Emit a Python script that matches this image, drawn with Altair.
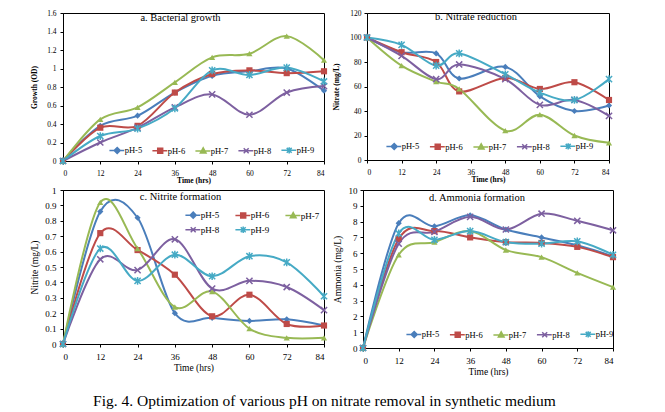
import altair as alt
import pandas as pd

FONT = "Liberation Serif"

series = ["pH-5", "pH-6", "pH-7", "pH-8", "pH-9"]
colors = ["#4A7EBB", "#BE4B48", "#98B954", "#7D60A0", "#46AAC5"]
marker_shapes = ["diamond", "square", "triangle-up",
                 "M-1,-1L1,1M1,-1L-1,1",
                 "M-1,-1L1,1M1,-1L-1,1M0,-1.25L0,1.25"]
marker_filled = [True, True, True, False, False]
legend_shapes = [
    "M-2.2,0L2,0M0,-0.85L0.85,0L0,0.85L-0.85,0ZM0,-0.45L0.45,0L0,0.45L-0.45,0Z",
    "M-2.2,0L2,0M-0.7,-0.7L0.7,-0.7L0.7,0.7L-0.7,0.7ZM-0.3,-0.3L0.3,-0.3L0.3,0.3L-0.3,0.3Z",
    "M-2.2,0L2,0M0,-0.85L0.8,0.6L-0.8,0.6ZM0,-0.25L0.3,0.3L-0.3,0.3Z",
    "M-2.2,0L2,0M-0.7,-0.7L0.7,0.7M0.7,-0.7L-0.7,0.7",
    "M-2.2,0L2,0M-0.7,-0.7L0.7,0.7M0.7,-0.7L-0.7,0.7M0,-0.9L0,0.9",
]

hours = [0, 12, 24, 36, 48, 60, 72, 84]
hours_b = [0, 12, 24, 32, 48, 60, 72, 84]

growth = {
    "pH-5": [0, 0.38, 0.49, 0.74, 0.92, 0.97, 1.00, 0.76],
    "pH-6": [0, 0.36, 0.38, 0.74, 0.94, 0.98, 0.95, 0.97],
    "pH-7": [0, 0.45, 0.58, 0.85, 1.12, 1.16, 1.35, 1.09],
    "pH-8": [0, 0.20, 0.36, 0.58, 0.72, 0.50, 0.74, 0.81],
    "pH-9": [0, 0.27, 0.35, 0.57, 0.98, 0.93, 1.01, 0.86],
}
nitrate = {
    "pH-5": [100, 88, 87, 66.5, 76, 52, 40, 44.5],
    "pH-6": [100, 88, 80, 56, 67, 58, 63.5, 49],
    "pH-7": [100, 77, 64, 58, 24, 37, 20, 14],
    "pH-8": [100, 85, 66, 78, 66, 45, 49, 36],
    "pH-9": [100, 94, 77, 87, 70, 55, 49, 66],
}
nitrite = {
    "pH-5": [0, 0.86, 0.82, 0.20, 0.17, 0.15, 0.16, 0.12],
    "pH-6": [0, 0.72, 0.61, 0.45, 0.18, 0.32, 0.13, 0.12],
    "pH-7": [0, 0.92, 0.62, 0.24, 0.34, 0.10, 0.04, 0.04],
    "pH-8": [0, 0.55, 0.48, 0.68, 0.36, 0.41, 0.37, 0.22],
    "pH-9": [0, 0.62, 0.41, 0.58, 0.44, 0.57, 0.53, 0.31],
}
ammonia = {
    "pH-5": [0, 7.9, 7.7, 8.4, 7.5, 7.0, 6.5, 5.8],
    "pH-6": [0, 6.9, 7.4, 7.0, 6.7, 6.65, 6.4, 5.75],
    "pH-7": [0, 5.9, 6.7, 7.4, 6.2, 5.75, 4.75, 3.85],
    "pH-8": [0, 6.6, 7.35, 8.3, 7.5, 8.5, 8.05, 7.45],
    "pH-9": [0, 7.25, 6.85, 7.4, 6.7, 6.6, 6.75, 5.9],
}


def panel(vals, xs, ymax, ystep, yfmt, ytitle, ptitle, w, h, fs_tick, fs_title,
          bold, ylp, ytp, xlp, xtp, leg, tdx, tdy):
    df = pd.DataFrame([{"series": s, "x": x, "y": v}
                       for s in series for x, v in zip(xs, vals[s])])
    n = int(round(ymax / ystep))
    yvals = [round(i * ystep, 3) for i in range(n + 1)]
    fw = "bold" if bold else "normal"
    xax = alt.Axis(values=hours, title="Time (hrs)", labelFontSize=fs_tick,
                   titleFontSize=fs_title, titleFontWeight=fw, tickSize=3,
                   labelPadding=xlp, titlePadding=xtp, labelAngle=0)
    yax = alt.Axis(values=yvals, format=yfmt, title=ytitle, labelFontSize=fs_tick,
                   titleFontSize=fs_title, titleFontWeight=fw, tickSize=3,
                   labelPadding=ylp, titlePadding=ytp)
    x = alt.X("x:Q", scale=alt.Scale(domain=[0, 84], nice=False, zero=False), axis=xax)
    y = alt.Y("y:Q", scale=alt.Scale(domain=[0, ymax], nice=False), axis=yax)
    base = alt.Chart(df)
    layers = []
    for s, c in zip(series, colors):
        layers.append(base.transform_filter(alt.datum.series == s).mark_line(
            interpolate="cardinal", strokeWidth=2, color=c).encode(x=x, y=y))
    for s, c, shp, f in zip(series, colors, marker_shapes, marker_filled):
        layers.append(base.transform_filter(alt.datum.series == s).mark_point(
            shape=shp, filled=f, size=38, color=c, opacity=1,
            strokeWidth=1.2 if f else 1.5).encode(x=x, y=y))
    lg = alt.Legend(title=None, orient="none", legendX=leg["x"], legendY=leg["y"],
                    direction="horizontal", columns=leg["cols"], symbolSize=50,
                    symbolStrokeWidth=1.5, labelFont=FONT, labelFontSize=leg["fs"],
                    labelOffset=3, columnPadding=leg["cp"], rowPadding=leg["rp"],
                    padding=0, labelColor="black", symbolOpacity=1)
    layers.append(base.mark_point(filled=False, opacity=0, strokeWidth=1.5).encode(
        x=x, y=y,
        color=alt.Color("series:N", scale=alt.Scale(domain=series, range=colors), legend=lg),
        shape=alt.Shape("series:N", scale=alt.Scale(domain=series, range=legend_shapes), legend=lg)))
    return alt.layer(*layers).properties(
        width=w, height=h,
        title=alt.TitleParams(ptitle, font=FONT, fontSize=10.5, fontWeight="normal",
                              frame="group", anchor="middle", dx=tdx, dy=tdy,
                              offset=0, color="black"))


pa = panel(growth, hours, 1.6, 0.2, ".1~f", "Growth (OD)", "a. Bacterial growth",
           261, 148, 7.5, 7.5, True, 4, 8, 5, 0,
           dict(x=49.7, y=132.7, cols=5, fs=8.5, cp=6, rp=0), -13, 14)
pb = panel(nitrate, hours_b, 120, 20, "d", "Nitrate (mg/L)", "b. Nitrate reduction",
           242, 147, 7.5, 7.5, True, 3, 9, 5, 0,
           dict(x=22.7, y=128.7, cols=5, fs=8.5, cp=6.5, rp=0), -12, 13.5)
pc = panel(nitrite, hours, 1.0, 0.1, ".1~f", "Nitrite (mg/L)", "c. Nitrite formation",
           261, 154, 9, 9.5, False, 4, 5, 5, 1.5,
           dict(x=125.7, y=20.4, cols=3, fs=9, cp=12, rp=1.9), -13, 16.5)
pd_ = panel(ammonia, hours, 10, 1, "d", "Ammonia (mg/L)", "d. Ammonia formation",
            250, 158, 9, 9.5, False, 3, 6, 5, 1.5,
            dict(x=46.7, y=139.7, cols=5, fs=8.5, cp=6.5, rp=0), -11, 17.4)

res = dict(x="independent", y="independent", color="independent", shape="independent")
row1 = alt.hconcat(pa, pb, spacing=1).resolve_scale(**res)
row2 = alt.hconcat(pc, pd_, spacing=0).resolve_scale(**res)

caption = "Fig. 4. Optimization of various pH on nitrate removal in synthetic medium"
chart = alt.vconcat(row1, row2, spacing=0).resolve_scale(**res).properties(
    title=alt.TitleParams(caption, orient="bottom", font=FONT, fontSize=15.5,
                          fontWeight="normal", color="black", offset=17, anchor="middle"),
    padding={"left": 21, "top": 0, "right": 5, "bottom": 0},
).configure_view(stroke="black", strokeWidth=1).configure_axis(
    grid=False, domainColor="black", tickColor="black", labelColor="black",
    titleColor="black", labelFont=FONT, titleFont=FONT, domainWidth=1, tickWidth=1,
).configure_title(font=FONT, color="black")

chart.save("out.html", embed_options={"renderer": "svg", "actions": False})
